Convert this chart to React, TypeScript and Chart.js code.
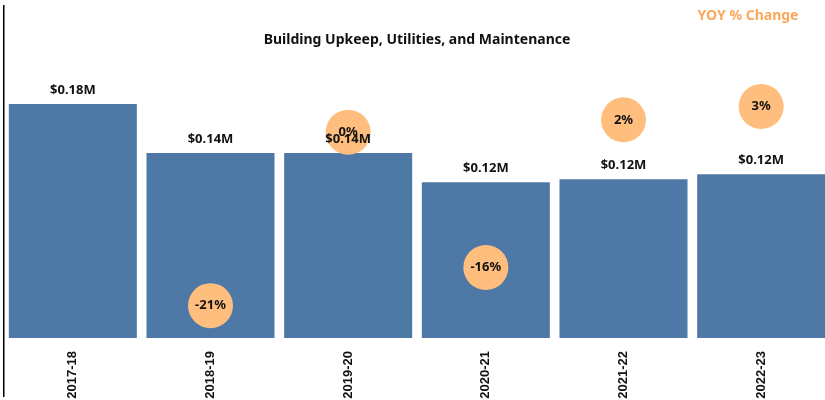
import React, { useEffect, useRef } from "react";
import { Chart, registerables } from "chart.js";

Chart.register(...registerables);

const categories = ["2017-18", "2018-19", "2019-20", "2020-21", "2021-22", "2022-23"];
const spendValues = [178000, 140700, 140700, 118500, 120800, 124600];
const spendLabels = ["$0.18M", "$0.14M", "$0.14M", "$0.12M", "$0.12M", "$0.12M"];
const yoyValues: (number | null)[] = [null, -20.8, 0.1, -16.2, 1.6, 3.2];
const yoyLabels = ["", "-21%", "0%", "-16%", "2%", "3%"];

const FONT = "'Noto Sans', 'Open Sans', sans-serif";
const AXIS_FONT = "'Liberation Sans', Arial, sans-serif";

const overlayPlugin = {
  id: "overlay",
  afterDatasetsDraw(chart: any) {
    const ctx = chart.ctx;
    ctx.save();
    const barMeta = chart.getDatasetMeta(1);
    ctx.font = `bold 13px ${FONT}`;
    ctx.fillStyle = "#111";
    ctx.textAlign = "center";
    ctx.textBaseline = "alphabetic";
    barMeta.data.forEach((el: any, i: number) => {
      ctx.fillText(spendLabels[i], el.x, el.y - 10);
    });
    const dotMeta = chart.getDatasetMeta(0);
    ctx.textBaseline = "middle";
    dotMeta.data.forEach((el: any, i: number) => {
      if (yoyValues[i] === null) return;
      ctx.fillText(yoyLabels[i], el.x, el.y);
    });
    ctx.restore();
  },
  afterDraw(chart: any) {
    const ctx = chart.ctx;
    ctx.save();
    ctx.fillStyle = "#111";
    ctx.textAlign = "center";
    ctx.textBaseline = "middle";
    ctx.font = `bold 14px ${FONT}`;
    ctx.fillText("Building Upkeep, Utilities, and Maintenance", 417, 40);
    ctx.fillStyle = "#fba85b";
    ctx.fillText("YOY % Change", 748, 16);
    ctx.fillStyle = "#000";
    ctx.fillRect(3, 5, 1.5, 392);
    ctx.restore();
  },
};

export default function App() {
  const ref = useRef<HTMLCanvasElement | null>(null);
  useEffect(() => {
    document.body.style.margin = "0";
    const chart = new Chart(ref.current!, {
      type: "bar",
      data: {
        labels: categories,
        datasets: [
          {
            type: "line",
            label: "YOY % Change",
            data: yoyValues,
            yAxisID: "y1",
            showLine: false,
            pointRadius: 22.5,
            pointHoverRadius: 22.5,
            pointBackgroundColor: "#ffbe7d",
            pointBorderWidth: 0,
            borderColor: "#ffbe7d",
            clip: false,
            order: 0,
          } as any,
          {
            type: "bar",
            label: "Spend",
            data: spendValues,
            yAxisID: "y",
            backgroundColor: "#4e79a7",
            barPercentage: 0.93,
            categoryPercentage: 1,
            order: 1,
          },
        ],
      },
      options: {
        animation: false,
        responsive: false,
        layout: { autoPadding: false, padding: { left: 4, right: 0, top: 75, bottom: 0 } },
        plugins: { legend: { display: false }, tooltip: { enabled: false } },
        scales: {
          x: {
            grid: { display: false },
            border: { display: false },
            ticks: {
              minRotation: 90,
              maxRotation: 90,
              padding: 5,
              color: "#111",
              font: { family: AXIS_FONT, weight: "bold", size: 13 },
            },
            afterFit: (axis: any) => {
              axis.height = 62;
            },
          },
          y: { display: false, min: 0, max: 200000 },
          y1: { display: false, min: -24.7, max: 7 },
        },
      },
      plugins: [overlayPlugin],
    } as any);
    return () => chart.destroy();
  }, []);
  return (
    <div style={{ width: 825, height: 400, overflow: "hidden" }}>
      <canvas ref={ref} width={830} height={400} style={{ display: "block" }} />
    </div>
  );
}
